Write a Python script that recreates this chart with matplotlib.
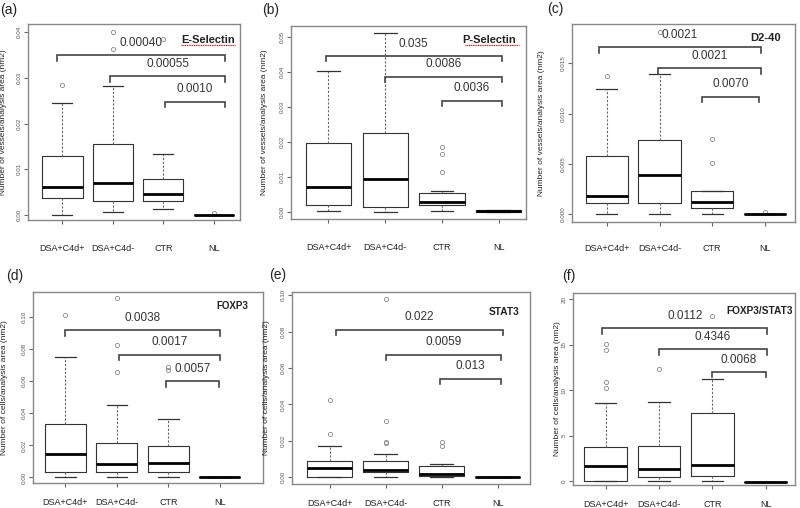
import matplotlib.pyplot as plt
from matplotlib import font_manager

groups = ["DSA+C4d+", "DSA+C4d-", "CTR", "NL"]

# [whisker low, Q1, median, Q3, whisker high] for each group
esel_stats = [[0.0, 0.0038, 0.0061, 0.0130, 0.0245],
              [0.0006, 0.0030, 0.0071, 0.0156, 0.0282],
              [0.0013, 0.0030, 0.0047, 0.0078, 0.0133],
              [0.0, 0.0, 0.0, 0.0, 0.0]]
esel_fliers = [[0.0285], [0.0363, 0.0400], [0.0385], [0.0004]]
esel_p = ["0.00040", "0.00055", "0.0010"]
esel_br = [0.0350, 0.0304, 0.0248]

psel_stats = [[0.0003, 0.0021, 0.0071, 0.0196, 0.0402],
              [0.0, 0.0015, 0.0094, 0.0225, 0.0510],
              [0.0003, 0.0019, 0.0029, 0.0055, 0.0060],
              [0.0, 0.0001, 0.0003, 0.0005, 0.0006]]
psel_fliers = [[], [], [0.0113, 0.0164, 0.0184], []]
psel_p = ["0.035", "0.0086", "0.0036"]
psel_br = [0.0445, 0.0386, 0.0317]

d240_stats = [[0.0, 0.00113, 0.0018, 0.00577, 0.0124],
              [0.0, 0.00113, 0.0039, 0.0074, 0.0139],
              [0.0, 0.00063, 0.0012, 0.0023, 0.00236],
              [0.0, 0.0, 0.00003, 0.00007, 0.00007]]
d240_fliers = [[0.0137], [0.0181], [0.0051, 0.0075], [0.00027]]
d240_p = ["0.0021", "0.0021", "0.0070"]
d240_br = [0.0166, 0.0145, 0.0117]

foxp3_stats = [[0.0, 0.0031, 0.0146, 0.0335, 0.0754],
               [0.0004, 0.0035, 0.0085, 0.0213, 0.0454],
               [0.0, 0.0031, 0.0090, 0.0194, 0.0365],
               [0.0, 0.0, 0.0, 0.0, 0.0]]
foxp3_fliers = [[0.1015], [0.066, 0.0825, 0.112], [0.0673, 0.0688], []]
foxp3_p = ["0.0038", "0.0017", "0.0057"]
foxp3_br = [0.0919, 0.0767, 0.0600]

stat3_stats = [[0.0, 0.0, 0.0051, 0.0090, 0.0170],
               [0.0, 0.0029, 0.0040, 0.0090, 0.0128],
               [0.0, 0.0005, 0.0020, 0.0062, 0.0075],
               [0.0, 0.0, 0.0, 0.0, 0.0]]
stat3_fliers = [[0.024, 0.0427], [0.019, 0.0194, 0.0311, 0.0978], [0.017, 0.0194], []]
stat3_p = ["0.022", "0.0059", "0.013"]
stat3_br = [0.0811, 0.0674, 0.0542]

ratio_stats = [[0.0, 0.0, 1.65, 3.74, 8.6],
               [0.0, 0.48, 1.36, 3.85, 8.72],
               [0.0, 0.59, 1.72, 7.47, 11.2],
               [-0.12, -0.12, -0.1, -0.08, -0.08]]
ratio_fliers = [[10.26, 10.9, 14.4, 15.1], [12.3], [18.2], []]
ratio_p = ["0.0112", "0.4346", "0.0068"]
ratio_br = [16.8, 14.5, 12.0]

names = [f.name for f in font_manager.fontManager.ttflist]
narrow = "Liberation Sans Narrow" if "Liberation Sans Narrow" in names else "Liberation Sans"
plt.rcParams['font.family'] = ['Liberation Sans', 'DejaVu Sans']

W, H = 800, 508
fig = plt.figure(figsize=(8, 5.08), dpi=100)

vessels = "Number of vessels/analysis area (nm2)"
cells = "Number of cells/analysis area (nm2)"

# layout: (label, frame px L,R,T,B, xlim, ylim, yticks, fmt, title, title pos, ylabel, ylabel offset px,
#          bracket x ends, xlabel pad, panel label pos, data..., underline, title size)
panels = [
    ("(a)", (28, 240, 24, 220), (0.32, 4.52), (-0.0011, 0.0418), [0, 0.01, 0.02, 0.03, 0.04], "%.2f",
     "E-Selectin", (0.85, 0.92), vessels, -21, [(0.90, 4.22), (1.95, 4.22), (3.03, 4.22)], 14,
     (9, 10), esel_stats, esel_fliers, esel_p, esel_br, (0.724, 0.976, 0.893), 8),
    ("(b)", (291, 526, 26, 219), (0.34, 4.48), (-0.002, 0.053), [0, 0.01, 0.02, 0.03, 0.04, 0.05], "%.2f",
     "P-Selectin", (0.845, 0.93), vessels, -23, [(0.95, 4.05), (2.0, 4.05), (3.0, 4.05)], 14,
     (271, 10), psel_stats, psel_fliers, psel_p, psel_br, (0.741, 0.972, 0.902), 8),
    ("(c)", (572, 795, 24, 222), (0.34, 4.57), (-0.00076, 0.0189), [0, 0.005, 0.010, 0.015], "%.3f",
     "D2-40", (0.866, 0.927), vessels, -27, [(0.85, 3.92), (1.97, 3.92), (2.81, 3.89)], 13,
     (555, 9), d240_stats, d240_fliers, d240_p, d240_br, None, 8),
    ("(d)", (33, 263, 292, 483), (0.37, 4.84), (-0.0035, 0.1158), [0, 0.02, 0.04, 0.06, 0.08, 0.10], "%.2f",
     "FOXP3", (0.865, 0.925), cells, -25, [(0.99, 4.01), (2.05, 4.01), (2.95, 3.99)], 8,
     (15, 276), foxp3_stats, foxp3_fliers, foxp3_p, foxp3_br, None, 7),
    ("(e)", (292, 530, 292, 484), (0.33, 4.58), (-0.0037, 0.1018), [0, 0.02, 0.04, 0.06, 0.08, 0.10], "%.2f",
     "STAT3", (0.89, 0.896), cells, -22, [(1.12, 4.09), (2.0, 4.06), (2.98, 4.06)], 8,
     (278, 275), stat3_stats, stat3_fliers, stat3_p, stat3_br, None, 7.3),
    ("(f)", (573, 795, 293, 485), (0.39, 4.55), (-0.44, 20.7), [0, 5, 10, 15, 20], "%d",
     "FOXP3/STAT3", (0.84, 0.905), cells, -12, [(0.94, 4.03), (2.0, 4.03), (3.0, 4.0)], 8,
     (569, 276), ratio_stats, ratio_fliers, ratio_p, ratio_br, None, 7.3),
]

for (lab, (L, R, T, B), xlim, ylim, yt, fmt, title, tpos, ylab, yoff, brx, xpad,
     lpos, stats, fliers, pvals, bry, uline, tsize) in panels:
    ax = fig.add_axes([L / W, 1 - B / H, (R - L) / W, (B - T) / H])
    bstats = []
    for s, fl in zip(stats, fliers):
        bstats.append(dict(whislo=s[0], q1=s[1], med=s[2], q3=s[3], whishi=s[4], fliers=fl))
    ax.bxp(bstats, positions=[1, 2, 3, 4], widths=0.8, showfliers=True,
           boxprops=dict(color='#333333', linewidth=0.8),
           medianprops=dict(color='black', linewidth=2.0),
           whiskerprops=dict(color='#666666', linewidth=0.8, linestyle=(0, (2, 1.5))),
           capprops=dict(color='#333333', linewidth=0.9),
           flierprops=dict(marker='o', markersize=3, markerfacecolor='none',
                           markeredgecolor='#888888', markeredgewidth=0.6))
    ax.set_xlim(*xlim)
    ax.set_ylim(*ylim)
    ax.set_xticks([1, 2, 3, 4])
    ax.set_xticklabels(groups, fontsize=6.5, color='#222222')
    ax.tick_params(axis='x', length=3, pad=xpad, color='#666666')
    ax.set_yticks(yt)
    ax.set_yticklabels([fmt % v for v in yt], rotation=90, fontsize=4.5, color='#555555', va='center')
    ax.tick_params(axis='y', length=3, pad=1.5, color='#666666')
    for sp in ax.spines.values():
        sp.set_color('#888888')
        sp.set_linewidth(1.0)
    ax.set_ylabel(ylab, fontsize=6, color='#222222')
    ax.yaxis.set_label_coords(yoff / (R - L), 0.5)

    tick = 0.028 * (ylim[1] - ylim[0])
    for (x0, x1), y, p in zip(brx, bry, pvals):
        ax.plot([x0, x0, x1, x1], [y - tick, y, y, y - tick], color='#444444', lw=1.2,
                solid_joinstyle='miter')
        ax.annotate(p, ((x0 + x1) / 2, y), xytext=(0, 4.5), textcoords='offset points',
                    ha='center', va='bottom', fontsize=8.5, family=[narrow, 'DejaVu Sans'],
                    color='#333333')

    ax.text(tpos[0], tpos[1], title, transform=ax.transAxes, ha='center', va='center',
            fontsize=tsize, fontweight='bold', color='#222222')
    if uline is not None:
        ax.plot([uline[0], uline[1]], [uline[2], uline[2]], transform=ax.transAxes,
                color='red', lw=0.8, linestyle=(0, (1, 0.6)))

    fig.text(lpos[0] / W, 1 - lpos[1] / H, lab, ha='center', va='center', fontsize=10, color='#222222')

plt.savefig('out.png', dpi=100)
